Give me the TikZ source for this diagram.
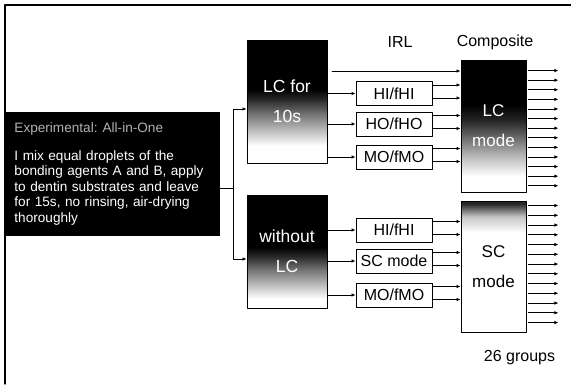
\documentclass[tikz,border=0pt]{standalone}
\usepackage{fontspec}
\setmainfont{Liberation Sans}
\usetikzlibrary{calc}
\usetikzlibrary{arrows.meta}
\tikzstyle{every node}=[font=\fontsize{16}{19}\selectfont,inner sep=0pt]
\tikzstyle{every path}=[line width=0.9pt,line cap=round,line join=round]
\pgfdeclareverticalshading{lcfade}{100bp}{color(0bp)=(white); color(32bp)=(white); color(38bp)=(black!25); color(45bp)=(black!55); color(51bp)=(black!85); color(55bp)=(black); color(100bp)=(black)}
\pgfdeclareverticalshading{wofade}{100bp}{color(0bp)=(white); color(29bp)=(white); color(35bp)=(black!25); color(42bp)=(black!55); color(48bp)=(black!85); color(52bp)=(black); color(100bp)=(black)}
\pgfdeclareverticalshading{lcmfade}{100bp}{color(0bp)=(white); color(31bp)=(white); color(38bp)=(black!25); color(45bp)=(black!55); color(52bp)=(black!85); color(58bp)=(black); color(100bp)=(black)}
\pgfdeclareverticalshading{scfade}{100bp}{color(0bp)=(white); color(63bp)=(white); color(69bp)=(gray!45); color(74bp)=(black!85); color(100bp)=(black)}
\newcommand{\exptfont}{\fontsize{13.6}{15.5}\selectfont}

\begin{document}
\begin{tikzpicture}[x=1pt,y=-1pt]
		\tikzstyle{arrow} = [-{Latex[length=4pt, width=3.5pt]}]
		\tikzstyle{modebox} = [draw, minimum width=80pt, align=center, text=white, font=\fontsize{17.5}{30}\selectfont]
		\tikzstyle{compbox} = [draw, minimum width=65pt, align=center, font=\fontsize{17}{30}\selectfont]
		\tikzstyle{irlbox} = [draw, fill=white, minimum width=76pt, minimum height=24pt]
		
		\useasboundingbox (0,0) rectangle (571,384);
		\draw[line width=1.3pt] (5,384) -- (5,5) -- (571,5);
		
		\node[fill=black, minimum width=215pt, minimum height=124pt] (expt) at (112.5,174) {};
		\node[text=gray!60, anchor=base west, font=\exptfont] (expttitle) at (14,132) {Experimental: All-in-One};
		\node[text=white, anchor=base west, text width=205pt, align=left, font=\exptfont] (exptbody) at (14,160)
			{I mix equal droplets of the\\ bonding agents A and B, apply\\ to dentin substrates and leave\\ for 15s, no rinsing, air-drying\\ thoroughly};
		
		\node[modebox, minimum height=123pt, shading=lcfade] (lc10) at (287,101.5) {LC for\\10s};
		\node[modebox, minimum height=113pt, shading=wofade] (wolc) at (287,251.5) {without\\LC};
		
		\node[irlbox] (hi1) at (394,93.5) {HI/fHI};
		\node[irlbox] (ho1) at (394,124) {HO/fHO};
		\node[irlbox] (mo1) at (394,157) {MO/fMO};
		\node[irlbox] (hi2) at (394,230) {HI/fHI};
		\node[irlbox] (sc2) at (394,261) {SC mode};
		\node[irlbox] (mo2) at (394,295) {MO/fMO};
		
		\node[compbox, minimum height=132pt, shading=lcmfade, text=white] (lcmode) at (493.5,126) {LC\\mode};
		\node[compbox, minimum height=131pt, shading=scfade] (scmode) at (493.5,266.5) {SC\\mode};
		
		\node (irl) at (400,42) {IRL};
		\node (comp) at (495,42) {Composite};
		\node (groups) at (519.5,358) {26 groups};
		
		\coordinate (split) at (233,188);
		\draw (expt.east |- split) -- (split);
		\draw[arrow] (split) |- ($(lc10.west)+(0,7.5)$);
		\draw[arrow] (split) |- ($(wolc.west)+(0,7.5)$);
		
		\foreach \b in {hi1,ho1,mo1} \draw[arrow] (lc10.east |- \b.west) -- (\b.west);
		\foreach \b in {hi2,sc2,mo2} \draw[arrow] (wolc.east |- \b.west) -- (\b.west);
		
		\coordinate (lcskip) at (332,71);
		\draw[arrow] (lcskip) -- (lcskip -| lcmode.west);
		\foreach \b in {hi1,ho1,mo1} {
			\draw[arrow] ($(\b.east)+(0,-8.5)$) -- ($(lcmode.west |- \b.east)+(0,-8.5)$);
			\draw[arrow] ($(\b.east)+(0,4.5)$) -- ($(lcmode.west |- \b.east)+(0,4.5)$);
		}
		\foreach \b in {hi2,sc2,mo2} {
			\draw[arrow] ($(\b.east)+(0,-8.5)$) -- ($(scmode.west |- \b.east)+(0,-8.5)$);
			\draw[arrow] ($(\b.east)+(0,4.5)$) -- ($(scmode.west |- \b.east)+(0,4.5)$);
		}
		
		\foreach \i in {0,...,12} {
			\draw[arrow] ($(lcmode.north east)+(2,11+9.6*\i)$) -- +(30,0);
			\draw[arrow] ($(scmode.north east)+(2,5+9.75*\i)$) -- +(30,0);
		}
		
	\end{tikzpicture}
\end{document}
